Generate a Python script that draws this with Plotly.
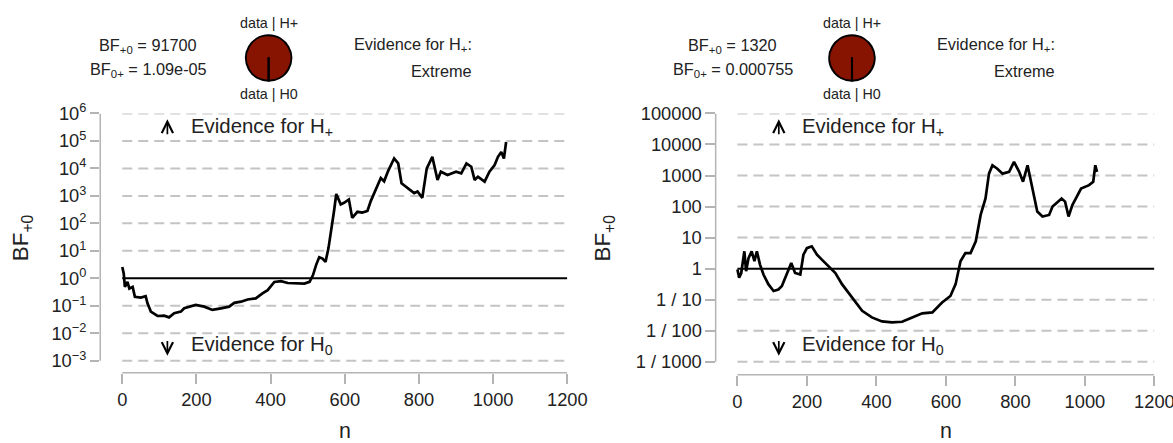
import plotly.graph_objects as go

# ---------------- data ----------------
left_n = [0, 4, 7, 14, 19, 28, 34, 50, 63, 68, 77, 95, 113, 126, 140, 158, 167, 185, 198,
          221, 243, 266, 288, 302, 320, 338, 360, 378, 392, 410, 428, 446, 464, 491, 505,
          514, 523, 531, 540, 548, 556, 562, 571, 577, 589, 598, 611, 620, 634, 647, 661,
          670, 683, 697, 706, 717, 733, 744, 753, 769, 787, 796, 809, 821, 836, 850, 859,
          877, 900, 914, 928, 941, 950, 959, 977, 990, 1004, 1013, 1022, 1029, 1035]
left_log10_bf = [0.41, 0.17, -0.31, -0.13, -0.37, -0.31, -0.67, -0.70, -0.65, -0.91, -1.21,
                 -1.37, -1.36, -1.42, -1.27, -1.21, -1.09, -1.03, -0.97, -1.03, -1.15, -1.09,
                 -1.03, -0.89, -0.85, -0.77, -0.73, -0.55, -0.43, -0.13, -0.10, -0.17, -0.17,
                 -0.19, -0.13, 0.11, 0.50, 0.77, 0.72, 0.60, 1.10, 1.60, 2.45, 3.07, 2.69,
                 2.75, 2.87, 2.20, 2.42, 2.39, 2.45, 2.81, 3.22, 3.65, 3.53, 3.91, 4.36, 4.18,
                 3.46, 3.28, 3.10, 3.16, 2.93, 4.00, 4.42, 3.58, 3.88, 3.76, 3.88, 3.82, 4.18,
                 4.06, 3.58, 3.70, 3.52, 3.88, 4.12, 4.42, 4.60, 4.36, 4.96]

right_n = [0, 5, 11, 14, 20, 25, 32, 41, 49, 56, 65, 75, 89, 104, 118, 128, 142, 155, 166,
           181, 190, 200, 214, 229, 243, 262, 282, 301, 330, 359, 387, 416, 445, 474, 503,
           532, 561, 589, 613, 628, 642, 656, 671, 686, 700, 714, 724, 734, 748, 763, 782,
           796, 811, 822, 835, 849, 863, 878, 897, 907, 933, 943, 953, 964, 989, 1012, 1024,
           1030, 1035]
right_log10_bf = [-0.03, -0.29, -0.14, 0.13, 0.56, -0.08, 0.34, 0.56, 0.24, 0.56, 0.13, -0.19,
                  -0.50, -0.72, -0.67, -0.56, -0.19, 0.18, -0.14, -0.19, 0.45, 0.66, 0.72,
                  0.45, 0.29, 0.08, -0.14, -0.50, -0.93, -1.36, -1.57, -1.70, -1.73, -1.71,
                  -1.57, -1.44, -1.41, -1.09, -0.88, -0.50, 0.24, 0.50, 0.50, 0.88, 1.73,
                  2.26, 3.06, 3.33, 3.22, 3.06, 3.12, 3.44, 3.12, 2.80, 3.33, 2.64, 1.84,
                  1.68, 1.73, 2.00, 2.26, 2.16, 1.68, 2.05, 2.58, 2.69, 2.80, 3.33, 3.12]

left_bf10_text = "91700"
left_bf01_text = "1.09e-05"
right_bf10_text = "1320"
right_bf01_text = "0.000755"
left_bf10 = 91700
right_bf10 = 1320
evidence_label = "Extreme"

x_tick_vals = [0, 200, 400, 600, 800, 1000, 1200]
left_y_exps = [-3, -2, -1, 0, 1, 2, 3, 4, 5, 6]
left_y_labels = ["10<sup>−3</sup>", "10<sup>−2</sup>", "10<sup>−1</sup>", "10<sup>0</sup>",
                 "10<sup>1</sup>", "10<sup>2</sup>", "10<sup>3</sup>", "10<sup>4</sup>",
                 "10<sup>5</sup>", "10<sup>6</sup>"]
right_y_exps = [-3, -2, -1, 0, 1, 2, 3, 4, 5]
right_y_labels = ["1 / 1000", "1 / 100", "1 / 10", "1", "10", "100", "1000", "10000", "100000"]

# ---------------- layout helpers ----------------
S = 0.981        # observed capture scale
OY = 9.5         # observed capture vertical offset
W, H = 1196, 443
FONT = "Liberation Sans, Arial, sans-serif"
AXIS_GRAY = "#b4b4b4"
GRID_GRAY = "#c4c4c4"
PIE_RED = "#871400"
TXT = "#222222"


def px(x):
    return (x / S) / W


def py(y):
    return 1 - ((y - OY) / S) / H


def fs(s):
    return round(s / S, 1)


fig = go.Figure()

panels = [
    dict(n=left_n, v=left_log10_bf, xa="x", ya="y", xname="xaxis", yname="yaxis",
         exps=left_y_exps, labels=left_y_labels,
         yaxis_px=100, x0_px=122, x1200_px=566, top_px=111, top_exp=6, bot_px=361, bot_exp=-3,
         xaxis_px=373, bf10_t=left_bf10_text, bf01_t=left_bf01_text, bf10=left_bf10,
         bf_cx=148, pie_cx=268, ev_right=473, arrow_x=167, ev_x=189, ytitle_x=22),
    dict(n=right_n, v=right_log10_bf, xa="x2", ya="y2", xname="xaxis2", yname="yaxis2",
         exps=right_y_exps, labels=right_y_labels,
         yaxis_px=714, x0_px=735.7, x1200_px=1151.7, top_px=111, top_exp=5, bot_px=362, bot_exp=-3,
         xaxis_px=375, bf10_t=right_bf10_text, bf01_t=right_bf01_text, bf10=right_bf10,
         bf_cx=731, pie_cx=850, ev_right=1055, arrow_x=777, ev_x=798, ytitle_x=603),
]

shapes = []
annotations = []

for p in panels:
    upx = (p["x1200_px"] - p["x0_px"]) / 1200.0
    xmin = -(p["x0_px"] - p["yaxis_px"]) / upx
    dpx = (p["bot_px"] - p["top_px"]) / (p["top_exp"] - p["bot_exp"])
    ymin = p["bot_exp"] - (p["xaxis_px"] - p["bot_px"]) / dpx
    ymax = p["top_exp"]

    fig.add_trace(go.Scatter(
        x=p["n"], y=[10 ** v for v in p["v"]], mode="lines",
        line=dict(color="black", width=fs(2.6)), xaxis=p["xa"], yaxis=p["ya"],
        showlegend=False, hoverinfo="skip"))

    common_font = dict(family=FONT, size=fs(18), color=TXT)
    fig.update_layout(**{
        p["xname"]: dict(domain=[px(p["yaxis_px"]), px(p["x1200_px"])],
                         range=[xmin, 1200], tickvals=x_tick_vals, ticks="outside",
                         ticklen=fs(10), tickwidth=fs(1.5), tickcolor=AXIS_GRAY,
                         showgrid=False, zeroline=False, showline=False,
                         tickfont=common_font, anchor=p["ya"]),
        p["yname"]: dict(domain=[py(p["xaxis_px"]), py(p["top_px"])], type="log",
                         range=[ymin, ymax], tickvals=[10 ** e for e in p["exps"]],
                         ticktext=p["labels"], ticks="outside", ticklen=fs(9),
                         tickwidth=fs(1.5), tickcolor=AXIS_GRAY, showgrid=False,
                         zeroline=False, showline=False, tickfont=common_font,
                         anchor=p["xa"]),
    })

    shapes.append(dict(type="line", xref=p["xa"], yref=p["ya"] + " domain",
                       x0=0, x1=1200, y0=0, y1=0,
                       line=dict(color=AXIS_GRAY, width=fs(1.5))))
    shapes.append(dict(type="line", xref=p["xa"] + " domain", yref=p["ya"],
                       x0=0, x1=0, y0=10 ** p["exps"][0], y1=10 ** p["exps"][-1],
                       line=dict(color=AXIS_GRAY, width=fs(1.5))))
    for e in p["exps"]:
        if e == 0:
            shapes.append(dict(type="line", xref=p["xa"], yref=p["ya"], x0=0, x1=1200,
                               y0=1, y1=1, line=dict(color="black", width=fs(2))))
        else:
            shapes.append(dict(type="line", xref=p["xa"], yref=p["ya"], x0=0, x1=1200,
                               y0=10 ** e, y1=10 ** e, layer="below",
                               line=dict(color=GRID_GRAY, width=fs(2), dash="10px,6px")))

    annotations.append(dict(x=px(p["ytitle_x"]), y=py(237), xref="paper", yref="paper",
                            text="BF<sub>+0</sub>", textangle=-90, showarrow=False,
                            font=dict(family=FONT, size=fs(22), color=TXT),
                            xanchor="center", yanchor="middle"))
    annotations.append(dict(x=px((p["x0_px"] + p["x1200_px"]) / 2), y=py(432),
                            xref="paper", yref="paper", text="n", showarrow=False,
                            font=dict(family=FONT, size=fs(21), color=TXT),
                            xanchor="center", yanchor="middle"))

    annotations.append(dict(x=px(p["arrow_x"]), y=py(117), xref="paper", yref="paper",
                            ax=0, ay=fs(16), text="", showarrow=True, arrowhead=5,
                            arrowsize=1.3, arrowwidth=fs(1.7), arrowcolor="black"))
    annotations.append(dict(x=px(p["arrow_x"]), y=py(356), xref="paper", yref="paper",
                            ax=0, ay=-fs(16), text="", showarrow=True, arrowhead=5,
                            arrowsize=1.3, arrowwidth=fs(1.7), arrowcolor="black"))
    annotations.append(dict(x=px(p["ev_x"]), y=py(125), xref="paper", yref="paper",
                            text="Evidence for H<sub>+</sub>", showarrow=False,
                            font=dict(family=FONT, size=fs(20), color=TXT),
                            xanchor="left", yanchor="middle"))
    annotations.append(dict(x=px(p["ev_x"]), y=py(346), xref="paper", yref="paper",
                            text="Evidence for H<sub>0</sub>", showarrow=False,
                            font=dict(family=FONT, size=fs(20), color=TXT),
                            xanchor="left", yanchor="middle"))

    hfont = dict(family=FONT, size=fs(16), color=TXT)
    annotations.append(dict(x=px(p["bf_cx"]), y=py(43), xref="paper", yref="paper",
                            text="BF<sub>+0</sub> = " + p["bf10_t"], showarrow=False,
                            font=hfont, xanchor="center", yanchor="middle"))
    annotations.append(dict(x=px(p["bf_cx"]), y=py(67), xref="paper", yref="paper",
                            text="BF<sub>0+</sub> = " + p["bf01_t"], showarrow=False,
                            font=hfont, xanchor="center", yanchor="middle"))
    annotations.append(dict(x=px(p["ev_right"]), y=py(42), xref="paper", yref="paper",
                            text="Evidence for H<sub>+</sub>:", showarrow=False,
                            font=hfont, xanchor="right", yanchor="middle"))
    annotations.append(dict(x=px(p["ev_right"]), y=py(68), xref="paper", yref="paper",
                            text=evidence_label, showarrow=False,
                            font=hfont, xanchor="right", yanchor="middle"))
    sfont = dict(family=FONT, size=fs(14), color=TXT)
    annotations.append(dict(x=px(p["pie_cx"]), y=py(20), xref="paper", yref="paper",
                            text="data | H+", showarrow=False, font=sfont,
                            xanchor="center", yanchor="middle"))
    annotations.append(dict(x=px(p["pie_cx"]), y=py(91), xref="paper", yref="paper",
                            text="data | H0", showarrow=False, font=sfont,
                            xanchor="center", yanchor="middle"))

    r = 23
    fig.add_trace(go.Pie(values=[p["bf10"], 1], sort=False, rotation=180,
                         direction="clockwise", textinfo="none", hoverinfo="skip",
                         marker=dict(colors=[PIE_RED, "white"],
                                     line=dict(color="black", width=fs(2))),
                         domain=dict(x=[px(p["pie_cx"] - r), px(p["pie_cx"] + r)],
                                     y=[py(55 + r), py(55 - r)]),
                         showlegend=False))

fig.update_layout(width=W, height=H, margin=dict(l=0, r=0, t=0, b=0),
                  paper_bgcolor="white", plot_bgcolor="white",
                  shapes=shapes, annotations=annotations, showlegend=False,
                  font=dict(family=FONT))

fig.write_html("out.html", config={"displayModeBar": False},
               post_script="document.body.style.margin='0';"
                           "document.body.style.padding='0';"
                           "document.documentElement.style.overflow='hidden';"
                           "document.body.style.overflow='hidden';")
